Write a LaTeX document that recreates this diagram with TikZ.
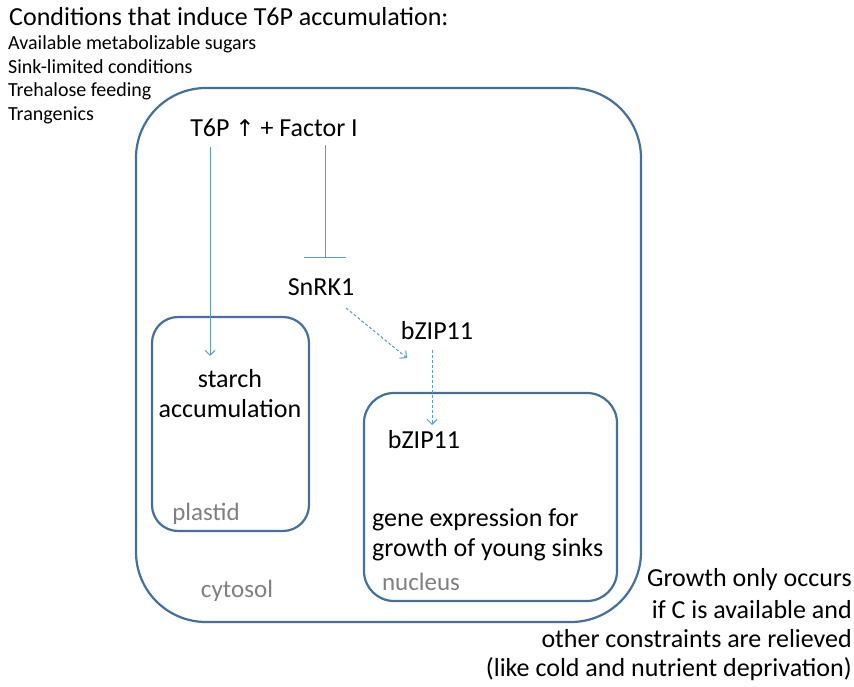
\documentclass[tikz,border=0pt]{standalone}
\usepackage{fontspec}
\setmainfont{Carlito}
\newfontfamily\symfont{DejaVu Sans}
\usetikzlibrary{arrows.meta}
\definecolor{boxblue}{HTML}{41719C}
\definecolor{arrblue}{HTML}{5B9BD5}
\definecolor{lblgray}{HTML}{808080}
\tikzset{
  compbox/.style={draw=boxblue, line width=2.2pt},
  lbl/.style={font=\fontsize{26}{30}\selectfont, text=black, inner sep=0pt},
  grylbl/.style={font=\fontsize{25}{30}\selectfont, text=lblgray, inner sep=0pt},
  cond/.style={font=\fontsize{20}{24}\selectfont, anchor=west, inner sep=0pt},
  note/.style={font=\fontsize{26}{30}\selectfont, anchor=east, inner sep=0pt},
  act/.style={draw=arrblue, line width=1pt, -{Straight Barb[length=5pt,width=10pt]}},
  dact/.style={draw=arrblue, line width=1pt, dashed, dash pattern=on 3pt off 2pt, -{Straight Barb[length=5pt,width=10pt]}},
  inhib/.style={draw=arrblue, line width=1pt, -{Bar[width=42pt]}},
}
\begin{document}
\begin{tikzpicture}[x=1pt,y=-1pt]
\useasboundingbox (0,0) rectangle (854,687);
\fill[white] (0,0) rectangle (854,687);
% boxes
\draw[compbox, rounded corners=70pt] (136,88) rectangle (641,622);
\draw[compbox, rounded corners=26pt] (152,317) rectangle (309,531);
\draw[compbox, rounded corners=30pt] (364,393) rectangle (617,601);
% title and conditions
\node[anchor=west, inner sep=0pt, font=\fontsize{26}{30}\selectfont] (title) at (9,17) {Conditions that induce T6P accumulation:};
\node[cond] (c1) at (8,44) {Available metabolizable sugars};
\node[cond] (c2) at (8,67) {Sink-limited conditions};
\node[cond] (c3) at (8,91) {Trehalose feeding};
\node[cond] (c4) at (8,115) {Trangenics};
% main labels
\node[lbl] (t6p) at (274,128) {T6P {\symfont\fontsize{23}{26}\selectfont ↑} + Factor I};
\coordinate (t6pa) at (210,147);
\coordinate (faca) at (325,145);
\node[lbl] (snrk) at (321,287) {SnRK1};
\node[lbl] (bzip1) at (437,331) {bZIP11};
\node[lbl] (bzip2) at (424,440) {bZIP11};
\node[lbl, align=center] (starch) at (230,394) {starch\\accumulation};
\node[lbl, anchor=west, align=left] (gene) at (372,535) {gene expression for\\growth of young sinks};
\node[grylbl] (plastid) at (206,514) {plastid};
\node[grylbl] (nucleus) at (421,582) {nucleus};
\node[grylbl] (cytosol) at (237,591) {cytosol};
% note
\node[note] (n1) at (852,580) {Growth only occurs};
\node[note] (n2) at (852,610) {if C is available and};
\node[note] (n3) at (852,639) {other constraints are relieved};
\node[note] (n4) at (852,669) {(like cold and nutrient deprivation)};
% connectors
\coordinate (starchin) at (210,356);
\coordinate (snrkin) at (325,258);
\coordinate (snrkout) at (346,308);
\coordinate (bz1in) at (407,358);
\coordinate (bz1out) at (432,350);
\coordinate (bz2in) at (432,425);
\draw[act] (t6pa) -- (starchin);
\draw[inhib] (faca) -- (snrkin);
\draw[dact] (snrkout) -- (bz1in);
\draw[dact] (bz1out) -- (bz2in);
\end{tikzpicture}
\end{document}
